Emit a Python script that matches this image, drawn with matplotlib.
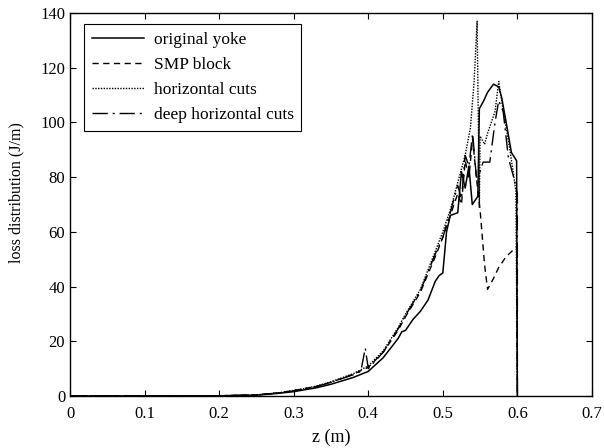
import numpy as np
import matplotlib.pyplot as plt

plt.rcParams['font.family'] = ['Liberation Serif', 'DejaVu Serif']

# original yoke
z_orig = [0, 0.2, 0.25, 0.28, 0.3, 0.33, 0.35, 0.38, 0.4, 0.42, 0.44, 0.445, 0.45,
          0.46, 0.47, 0.48, 0.49, 0.495, 0.5, 0.505, 0.51, 0.52, 0.525, 0.53, 0.535,
          0.5395, 0.547, 0.549, 0.555, 0.56, 0.568, 0.575, 0.579, 0.585, 0.592,
          0.599, 0.6]
v_orig = [0, 0.1, 0.3, 1, 1.6, 3, 4.3, 6.8, 9, 14, 21, 23.5, 24, 28, 31, 35, 42, 44,
          45, 60, 66, 67, 82, 76, 84, 70, 73, 105, 108, 111, 114, 113, 109, 100,
          89, 86, 0]

# SMP block
z_smp = [0, 0.2, 0.25, 0.28, 0.3, 0.33, 0.35, 0.38, 0.4, 0.42, 0.44, 0.45, 0.47,
         0.49, 0.5, 0.51, 0.52, 0.525, 0.53, 0.535, 0.54, 0.545, 0.55, 0.556,
         0.56, 0.568, 0.575, 0.585, 0.593, 0.599, 0.6]
v_smp = [0, 0.1, 0.4, 1.2, 2, 3.5, 5, 8, 10.5, 16, 24, 29, 38, 51, 58, 66, 74, 70,
         86, 80, 94, 80, 68, 48, 39, 43, 47, 51, 53, 54.5, 0]

# horizontal cuts
z_hor = [0, 0.2, 0.25, 0.28, 0.3, 0.33, 0.35, 0.38, 0.4, 0.42, 0.44, 0.45, 0.47,
         0.49, 0.5, 0.51, 0.52, 0.53, 0.537, 0.542, 0.546, 0.549, 0.55, 0.556,
         0.56, 0.57, 0.575, 0.58, 0.59, 0.598, 0.6]
v_hor = [0, 0.1, 0.4, 1.2, 2, 3.6, 5.2, 8.2, 11, 16.5, 25, 30, 39, 53, 60, 68, 78,
         88, 98, 115, 137, 69, 95, 92, 96, 104, 115, 106, 90, 75, 0]

# deep horizontal cuts
z_deep = [0, 0.2, 0.25, 0.28, 0.3, 0.33, 0.35, 0.38, 0.39, 0.396, 0.40, 0.42, 0.44,
          0.45, 0.47, 0.49, 0.5, 0.51, 0.52, 0.525, 0.53, 0.535, 0.54, 0.545,
          0.55, 0.554, 0.563, 0.57, 0.575, 0.581, 0.588, 0.595, 0.6, 0.6]
v_deep = [0, 0.1, 0.4, 1.1, 1.9, 3.4, 5, 7.8, 9, 17.5, 10, 16, 24.5, 29.5, 38.5,
          52, 58, 67, 77, 72, 88, 84, 96, 80, 82, 85.5, 85.5, 100, 108, 104,
          87, 80, 74, 0]

fig = plt.figure(figsize=(6.04, 4.48), dpi=100)
ax = fig.add_axes([0.116, 0.116, 0.864, 0.855])

ax.plot(z_orig, v_orig, color='black', lw=1.1, ls='-', label='original yoke')
ax.plot(z_smp, v_smp, color='black', lw=1.0, ls=(0, (4.5, 3.2)), label='SMP block')
ax.plot(z_hor, v_hor, color='black', lw=1.0, ls=(0, (1, 1)), label='horizontal cuts')
ax.plot(z_deep, v_deep, color='black', lw=1.0, ls=(0, (11, 3.5, 1.5, 3.5)),
        label='deep horizontal cuts')

ax.set_xlim(0, 0.7)
ax.set_ylim(0, 140)
ax.set_xticks(np.arange(0, 0.71, 0.1))
ax.set_xticklabels(['0', '0.1', '0.2', '0.3', '0.4', '0.5', '0.6', '0.7'])
ax.set_yticks(np.arange(0, 141, 20))
ax.tick_params(direction='in', top=True, right=True, labelsize=12, length=4)
ax.tick_params(axis='x', pad=7)
ax.set_xlabel('z (m)', fontsize=13, labelpad=5)
ax.set_ylabel('loss distribution (J/m)', fontsize=11.5)
ax.yaxis.set_label_coords(-0.088, 0.53)
for s in ax.spines.values():
    s.set_linewidth(1.0)

leg = ax.legend(loc='upper left', fontsize=12.5, fancybox=False, edgecolor='black',
                framealpha=1, handlelength=3.0, handletextpad=0.55, borderpad=0.45,
                labelspacing=0.5, borderaxespad=0,
                bbox_to_anchor=(0.027, 0.97))
leg.get_frame().set_linewidth(0.8)

fig.savefig('out.png', dpi=100)
